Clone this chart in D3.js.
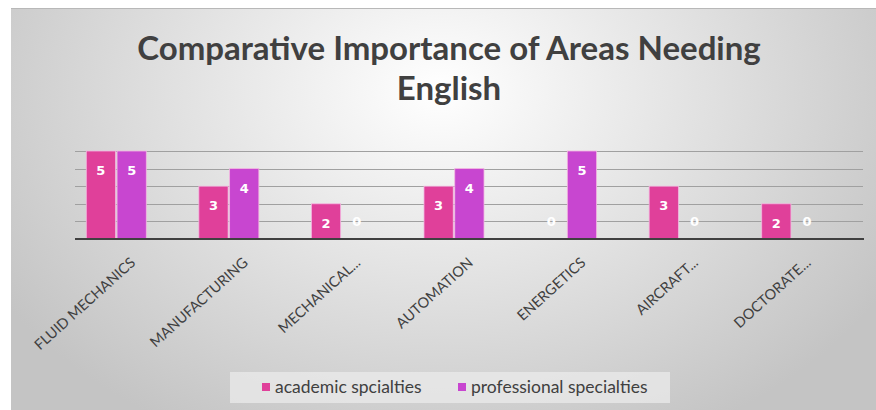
<!DOCTYPE html>
<html>
<head>
<meta charset="utf-8">
<script src="https://cdn.jsdelivr.net/npm/d3@7"></script>
<style>
  html, body { margin: 0; padding: 0; background: #fff; }
  svg { display: block; }
</style>
</head>
<body>
<div id="chart"></div>
<script>
// data
const categories = ["FLUID MECHANICS", "MANUFACTURING", "MECHANICAL...", "AUTOMATION", "ENERGETICS", "AIRCRAFT...", "DOCTORATE..."];
const seriesNames = ["academic spcialties", "professional specialties"];
const academic = [5, 3, 2, 3, 0, 3, 2];
const professional = [5, 4, 0, 4, 5, 0, 0];
const yTicks = [0, 1, 2, 3, 4, 5];
const colors = ["#e0409a", "#c846d0"];

const W = 876, H = 410;
const plot = { left: 75, right: 863, top: 151, bottom: 239 };

const svg = d3.select("#chart").append("svg")
    .attr("width", W)
    .attr("height", H);

// background gradient of the chart frame
const defs = svg.append("defs");
const grad = defs.append("radialGradient")
    .attr("id", "bg")
    .attr("gradientUnits", "userSpaceOnUse")
    .attr("cx", 440).attr("cy", 90).attr("r", 520)
    .attr("gradientTransform", "translate(440,90) scale(1,0.75) translate(-440,-90)");
grad.append("stop").attr("offset", "0%").attr("stop-color", "#ffffff");
grad.append("stop").attr("offset", "100%").attr("stop-color", "#c4c4c4");

svg.append("rect")
    .attr("x", 11).attr("y", 8)
    .attr("width", W - 11).attr("height", H - 8)
    .attr("fill", "url(#bg)");
svg.append("line")
    .attr("x1", 11).attr("x2", W)
    .attr("y1", 8.5).attr("y2", 8.5)
    .attr("stroke", "#b8b8b8");

// title (two lines)
const title = svg.append("text")
    .attr("text-anchor", "middle")
    .style("font-family", "Lato, 'Open Sans', sans-serif")
    .style("font-weight", "bold")
    .style("font-size", "33px")
    .attr("fill", "#404040");
title.append("tspan").attr("x", 449).attr("y", 60).text("Comparative Importance of Areas Needing");
title.append("tspan").attr("x", 449).attr("y", 100).text("English");

// scales
const data = categories.map((c, i) => ({ cat: c, values: [academic[i], professional[i]] }));

const x0 = d3.scaleBand()
    .domain(categories)
    .range([60, 848])
    .paddingInner(0.467)
    .paddingOuter(0.2335);

const x1 = d3.scaleBand()
    .domain(d3.range(seriesNames.length))
    .range([0, x0.bandwidth()])
    .paddingInner(0.05);

const y = d3.scaleLinear()
    .domain([0, 5])
    .range([plot.bottom, plot.top]);

// gridlines
svg.append("g")
    .selectAll("line")
    .data(yTicks.filter(d => d > 0))
    .join("line")
    .attr("x1", plot.left).attr("x2", plot.right)
    .attr("y1", d => Math.round(y(d)) + 0.5)
    .attr("y2", d => Math.round(y(d)) + 0.5)
    .attr("stroke", "#a0a0a0")
    .attr("stroke-width", 1);

// bars
const groups = svg.append("g")
    .selectAll("g")
    .data(data)
    .join("g")
    .attr("transform", d => `translate(${x0(d.cat)},0)`);

groups.selectAll("rect")
    .data(d => d.values.map((v, k) => ({ v, k })))
    .join("rect")
    .attr("x", d => x1(d.k))
    .attr("y", d => y(d.v))
    .attr("width", x1.bandwidth())
    .attr("height", d => y(0) - y(d.v))
    .attr("fill", d => colors[d.k])
    .attr("stroke", d => d.v > 0 ? "#f3b6e0" : "none")
    .attr("stroke-width", 0.8);

// value labels: inside end, zero values sit just above the axis
groups.selectAll("text")
    .data(d => d.values.map((v, k) => ({ v, k })))
    .join("text")
    .attr("x", d => x1(d.k) + x1.bandwidth() / 2)
    .attr("y", d => d.v > 0 ? y(d.v) + 24 : y(0) - 13)
    .attr("text-anchor", "middle")
    .style("font-family", "'DejaVu Sans', sans-serif")
    .style("font-weight", "bold")
    .style("font-size", "13px")
    .attr("fill", "#ffffff")
    .text(d => d.v);

// x axis baseline
svg.append("line")
    .attr("x1", plot.left).attr("x2", plot.right + 1)
    .attr("y1", y(0)).attr("y2", y(0))
    .attr("stroke", "#404040")
    .attr("stroke-width", 2);

// category labels, rotated
svg.append("g")
    .selectAll("text")
    .data(categories)
    .join("text")
    .attr("transform", d => `translate(${x0(d) + x0.bandwidth() / 2 + 20},${y(0) + 25}) rotate(-42)`)
    .attr("text-anchor", "end")
    .style("font-family", "Lato, sans-serif")
    .style("font-size", "14.5px")
    .attr("fill", "#404040")
    .text(d => d);

// legend
const legend = svg.append("g");
legend.append("rect")
    .attr("x", 230).attr("y", 372)
    .attr("width", 440).attr("height", 31)
    .attr("fill", "#ececec")
    .attr("opacity", 0.7);

const legendX = [262, 458];
seriesNames.forEach((name, k) => {
    legend.append("rect")
        .attr("x", legendX[k]).attr("y", 383)
        .attr("width", 8).attr("height", 8)
        .attr("fill", colors[k]);
    legend.append("text")
        .attr("x", legendX[k] + 13).attr("y", 393)
        .style("font-family", "Lato, sans-serif")
        .style("font-size", "17.5px")
        .attr("fill", "#404040")
        .text(name);
});
</script>
</body>
</html>
